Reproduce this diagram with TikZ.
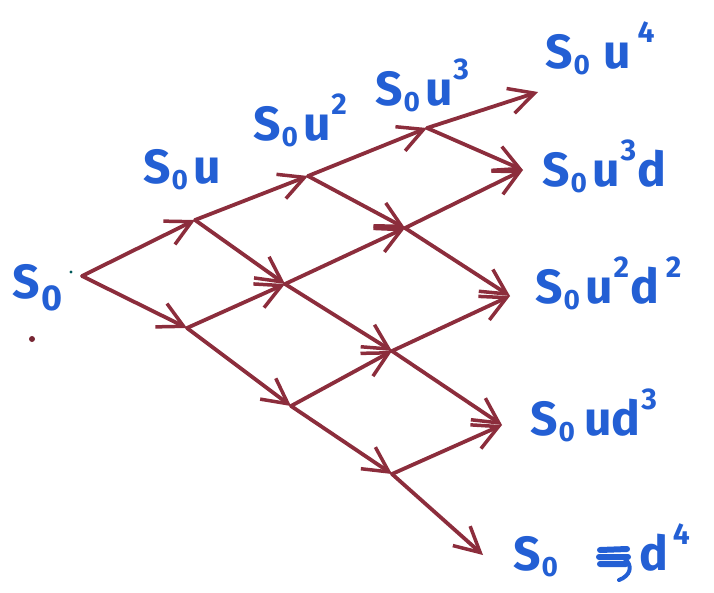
\documentclass[tikz,border=0pt]{standalone}
\usepackage{fontspec}
\setmainfont{Fira Sans}
\usetikzlibrary{arrows.meta}
\definecolor{ink}{RGB}{35,95,212}
\definecolor{pen}{RGB}{140,45,60}
\newcommand\mysub[1]{\kern1pt\raisebox{-6pt}{\fontsize{28}{28}\selectfont #1}\kern5pt}
\newcommand\mysup[1]{\kern1pt\raisebox{26pt}{\fontsize{30}{30}\selectfont #1}\kern1pt}
\begin{document}
\begin{tikzpicture}[x=1pt,y=-1pt,
  edge/.style={draw=pen, line width=3.8pt, line cap=round,
    -{Straight Barb[length=25pt,width=26pt,line width=3.5pt]}},
  lbl/.style={text=ink, font=\fontsize{48}{48}\selectfont\bfseries, inner sep=0pt, anchor=base west}]
\useasboundingbox (0,0) rectangle (714,592);
% tree vertices
\coordinate (r) at (82,276);
\coordinate (a1) at (195,220);
\coordinate (b1) at (187,328);
\coordinate (a2) at (308,176);
\coordinate (b2) at (285,284);
\coordinate (c2) at (291,406);
\coordinate (a3) at (427,128);
\coordinate (b3) at (405,228);
\coordinate (c3) at (392,351);
\coordinate (d3) at (392,474);
\coordinate (t1) at (538,92);
\coordinate (t2) at (523,170);
\coordinate (t3) at (510,296);
\coordinate (t4) at (502,425);
\coordinate (t5) at (483,555);
% edges
\draw[edge] (r) -- (a1);
\draw[edge] (r) -- (b1);
\draw[edge] (a1) -- (a2);
\draw[edge] (a1) -- (b2);
\draw[edge] (b1) -- (b2);
\draw[edge] (b1) -- (c2);
\draw[edge] (a2) -- (a3);
\draw[edge] (a2) -- (b3);
\draw[edge] (b2) -- (b3);
\draw[edge] (b2) -- (c3);
\draw[edge] (c2) -- (c3);
\draw[edge] (c2) -- (d3);
\draw[edge] (a3) -- (t1);
\draw[edge] (a3) -- (t2);
\draw[edge] (b3) -- (t2);
\draw[edge] (b3) -- (t3);
\draw[edge] (c3) -- (t3);
\draw[edge] (c3) -- (t4);
\draw[edge] (d3) -- (t4);
\draw[edge] (d3) -- (t5);
% labels
\node[lbl] (l0) at (12,298) {S\kern2pt\raisebox{-12pt}{\fontsize{36}{36}\selectfont 0}};
\node[lbl] (l1) at (143,183) {S\mysub{0}u};
\node[lbl] (l2) at (253,140) {S\mysub{0}u\mysup{2}};
\node[lbl] (l3) at (375,105) {S\mysub{0}u\mysup{3}};
\node[lbl] (l4) at (545,68) {S\mysub{0}\kern8pt u\kern6pt\mysup{4}};
\node[lbl] (l5) at (542,186) {S\mysub{0}u\mysup{3}d};
\node[lbl] (l6) at (535,303) {S\mysub{0}u\mysup{2}d\kern6pt\mysup{2}};
\node[lbl] (l7) at (530,435) {S\mysub{0}\kern4pt ud\mysup{3}};
\node[lbl] (l8) at (513,570) {S\mysub{0}\hspace{76pt}d\kern4pt\mysup{4}};
% crossed-out mark
\draw[ink, line width=6pt, line cap=round]
  (600,550) -- (627,549) (599,557) -- (628,557) (600,564) -- (626,564);
\draw[ink, line width=4pt, line cap=round]
  (624,558) .. controls (634,566) and (630,576) .. (619,580);
% stray marks
\fill[pen!85!black] (32,339) circle (3pt);
\fill[teal!70!black] (71,272) circle (1.6pt);
\end{tikzpicture}
\end{document}
